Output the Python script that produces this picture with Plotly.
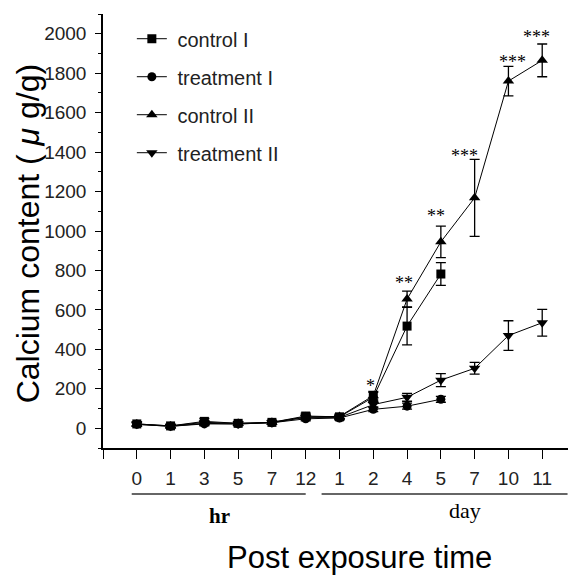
import plotly.graph_objects as go

tick_labels = ["0", "1", "3", "5", "7", "12", "1", "2", "4", "5", "7", "10", "11"]
x_idx = list(range(13))

# values (µg/g) at each time point; None = not measured
control_1 = [22, 12, 35, 25, 30, 62, 58, 157, 518, 782, None, None, None]
control_1_err = [12, 8, 15, 10, 10, 15, 12, 25, 95, 58, None, None, None]
treatment_1 = [20, 10, 22, 22, 28, 48, 52, 96, 112, 147, None, None, None]
treatment_1_err = [8, 8, 10, 8, 8, 10, 10, 12, 15, 15, None, None, None]
control_2 = [22, 12, 30, 25, 30, 58, 60, 165, 655, 945, 1168, 1760, 1865]
control_2_err = [10, 8, 10, 8, 10, 12, 12, 22, 40, 80, 195, 75, 83]
treatment_2 = [20, 10, 25, 22, 28, 55, 55, 120, 157, 244, 304, 470, 535]
treatment_2_err = [8, 8, 10, 8, 8, 12, 10, 15, 20, 33, 30, 75, 68]

sig_x = [6.93, 7.9, 8.85, 9.7, 11.13, 11.83]
sig_y = [213, 736, 1076, 1381, 1858, 1985]
sig_text = ["*", "**", "**", "***", "***", "***"]

series = [
    ("control I", control_1, control_1_err, "square", 9),
    ("treatment I", treatment_1, treatment_1_err, "circle", 9),
    ("control II", control_2, control_2_err, "triangle-up", 10),
    ("treatment II", treatment_2, treatment_2_err, "triangle-down", 10),
]

fig = go.Figure()
for i, (name, ys, errs, sym, ms) in enumerate(series):
    xs = [x for x, y in zip(x_idx, ys) if y is not None]
    yv = [y for y in ys if y is not None]
    ev = [e for e in errs if e is not None]
    fig.add_trace(go.Scatter(
        x=xs, y=yv, name="\u00a0" + name, mode="lines+markers",
        legendgroup=f"g{i}",
        line=dict(color="black", width=1),
        marker=dict(symbol=sym, size=ms, color="black"),
        error_y=dict(type="data", array=ev, color="black", thickness=1.3, width=5),
    ))

for x, y, t in zip(sig_x, sig_y, sig_text):
    fig.add_annotation(x=x, y=y, text=t, showarrow=False, xanchor="center", yanchor="middle",
                       font=dict(family="Liberation Serif", size=18, color="black"))

# group underlines and labels
fig.add_shape(type="line", xref="x", yref="paper", x0=-0.15, x1=5.0, y0=-0.106, y1=-0.106,
              line=dict(color="#333", width=1.5))
fig.add_shape(type="line", xref="x", yref="paper", x0=5.47, x1=12.75, y0=-0.106, y1=-0.106,
              line=dict(color="#333", width=1.5))
fig.add_annotation(x=2.46, y=-0.157, xref="x", yref="paper", text="<b>hr</b>", showarrow=False,
                   xanchor="center", yanchor="middle",
                   font=dict(family="Liberation Serif", size=21, color="black"))
fig.add_annotation(x=9.7, y=-0.143, xref="x", yref="paper", text="day", showarrow=False,
                   xanchor="center", yanchor="middle",
                   font=dict(family="Liberation Serif", size=22, color="black"))
fig.add_annotation(x=0.543, y=-0.253, xref="paper", yref="paper", text="Post exposure time",
                   showarrow=False, xanchor="center", yanchor="middle",
                   font=dict(family="Liberation Sans", size=31, color="black"))
fig.add_annotation(x=-0.158, y=0.493, xref="paper", yref="paper",
                   text="Calcium content ( <i>μ</i> g/g)", textangle=-90,
                   showarrow=False, xanchor="center", yanchor="middle",
                   font=dict(family="Liberation Sans", size=32, color="black"))

fig.update_layout(
    width=576, height=576,
    margin=dict(l=95, r=8, t=6, b=136),
    plot_bgcolor="white", paper_bgcolor="white",
    font=dict(family="Liberation Sans", color="#222"),
    showlegend=True,
    legend=dict(x=0.061, y=0.988, xanchor="left", yanchor="top",
                bgcolor="rgba(0,0,0,0)", font=dict(size=20, color="#222"),
                tracegroupgap=9, itemwidth=30),
    xaxis=dict(range=[-1, 13], tickmode="array", tickvals=[-1] + x_idx,
               ticktext=[""] + tick_labels, showgrid=False, zeroline=False,
               showline=True, linecolor="black", linewidth=1.5,
               ticks="outside", ticklen=9, tickcolor="black",
               ticklabelstandoff=3,
               tickfont=dict(size=19, color="#222")),
    yaxis=dict(range=[-100, 2100], tickmode="array",
               tickvals=[0, 200, 400, 600, 800, 1000, 1200, 1400, 1600, 1800, 2000],
               showgrid=False, zeroline=False,
               showline=True, linecolor="black", linewidth=1.5,
               ticks="outside", ticklen=6, tickcolor="black",
               ticklabelstandoff=5,
               minor=dict(tickvals=[-100, 100, 300, 500, 700, 900, 1100, 1300, 1500, 1700, 1900, 2100],
                          ticklen=3, tickcolor="black", ticks="outside"),
               tickfont=dict(size=19, color="#222")),
)

fig.write_html("out.html")
